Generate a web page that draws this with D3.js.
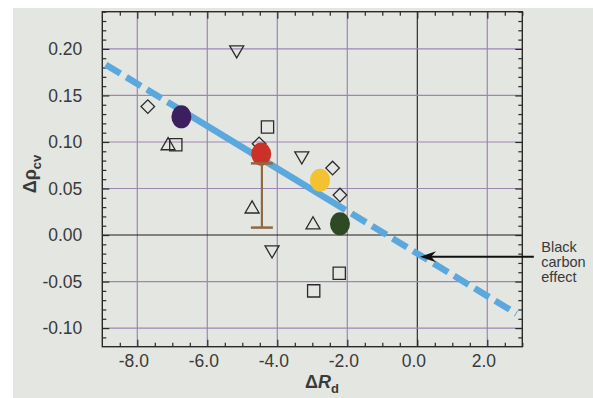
<!DOCTYPE html>
<html><head><meta charset="utf-8">
<script src="https://cdn.jsdelivr.net/npm/d3@7"></script>
<style>
html,body{margin:0;padding:0;background:#fff;}
svg{display:block;}
text{font-family:"Liberation Sans",Arial,Helvetica,sans-serif;fill:#3a3a3a;}
</style></head>
<body>
<svg id="chart" width="593" height="398"></svg>
<script>
// ---- data ----
const xTicks = [-8, -6, -4, -2, 0, 2];
const xTickLabels = ["-8.0", "-6.0", "-4.0", "-2.0", "0.0", "2.0"];
const yTicks = [0.20, 0.15, 0.10, 0.05, 0.00, -0.05, -0.10];
const yTickLabels = ["0.20", "0.15", "0.10", "0.05", "0.00", "-0.05", "-0.10"];

const diamonds = [[-7.70, 0.138], [-4.52, 0.098], [-2.42, 0.072], [-2.21, 0.043]];
const squares = [[-6.90, 0.097], [-4.28, 0.116], [-2.23, -0.041], [-2.96, -0.060]];
const upTriangles = [[-7.12, 0.096], [-4.72, 0.028], [-2.98, 0.011]];
const downTriangles = [[-5.16, 0.199], [-3.30, 0.085], [-4.15, -0.016]];

const circleNames = ["purple", "red", "yellow", "green"];
const circleX = [-6.74, -4.46, -2.78, -2.21];
const circleY = [0.127, 0.087, 0.059, 0.012];
const circleColors = ["#3b1f5e", "#cc3127", "#f2c230", "#2d4a24"];

const errorBar = {x: -4.44, low: 0.008, high: 0.077};

const fitDashedLeft = [[-8.9, 0.183], [-6.74, 0.134]];
const fitSolid = [[-6.74, 0.134], [-2.05, 0.027]];
const fitDashedRight = [[-2.05, 0.027], [2.83, -0.0845]];

const arrowFrom = [3.33, -0.0233];
const arrowTo = [0.08, -0.0233];
const noteLines = ["Black", "carbon", "effect"];

// ---- layout ----
const svg = d3.select("#chart");
const L = 102.3, R = 522.3, T = 11.7, B = 346.7;
const x = d3.scaleLinear().domain([-9, 3]).range([L, R]);
const y = d3.scaleLinear().domain([-0.12, 0.24]).range([B, T]);

// paper
svg.append("rect").attr("x", 13).attr("y", 8).attr("width", 593 - 13).attr("height", 398 - 8)
  .attr("fill", "#e4e6e2");

// grid
const grid = svg.append("g");
xTicks.forEach(v => {
  grid.append("line").attr("x1", x(v)).attr("x2", x(v)).attr("y1", T).attr("y2", B)
    .attr("stroke", v === 0 ? "#1e1e1e" : "#9e86b3").attr("stroke-width", v === 0 ? 1.1 : 1.2);
});
yTicks.forEach(v => {
  grid.append("line").attr("x1", L).attr("x2", R).attr("y1", y(v)).attr("y2", y(v))
    .attr("stroke", v === 0 ? "#1e1e1e" : "#9e86b3").attr("stroke-width", v === 0 ? 1.1 : 1.2);
});

// ticks (inward on all sides) via d3 axes
const xMinor = d3.range(-8.5, 3.01, 0.5).filter(v => Math.abs(v - Math.round(v / 2) * 2) > 1e-6);
const yMinor = d3.range(-0.11, 0.2401, 0.01).filter(v => Math.abs(v / 0.05 - Math.round(v / 0.05)) > 1e-6);

function tickGroup(axisFn, scale, vals, size, tr) {
  const g = svg.append("g").attr("transform", tr)
    .call(axisFn(scale).tickValues(vals).tickSizeInner(-size).tickSizeOuter(0).tickFormat(""));
  g.select(".domain").remove();
  g.selectAll(".tick line").attr("stroke", "#2a2a2a").attr("stroke-width", 1.2);
  return g;
}
tickGroup(d3.axisBottom, x, xTicks, 7, `translate(0,${B})`);
tickGroup(d3.axisBottom, x, xMinor, 4, `translate(0,${B})`);
tickGroup(d3.axisTop, x, xTicks, 7, `translate(0,${T})`);
tickGroup(d3.axisTop, x, xMinor, 4, `translate(0,${T})`);
tickGroup(d3.axisLeft, y, yTicks, 7, `translate(${L},0)`);
tickGroup(d3.axisLeft, y, yMinor, 4, `translate(${L},0)`);
tickGroup(d3.axisRight, y, yTicks, 7, `translate(${R},0)`);
tickGroup(d3.axisRight, y, yMinor, 4, `translate(${R},0)`);

// tick labels
const xl = svg.append("g").attr("transform", `translate(0,${B})`)
  .call(d3.axisBottom(x).tickValues(xTicks).tickSize(0).tickPadding(8)
    .tickFormat((d, i) => xTickLabels[i]));
xl.select(".domain").remove();
xl.selectAll("text").attr("font-size", 17.5).attr("dx", -4).attr("fill", "#3a3a3a")
  .attr("font-family", "Liberation Sans, Arial, sans-serif");

const yl = svg.append("g").attr("transform", `translate(${L},0)`)
  .call(d3.axisLeft(y).tickValues(yTicks).tickSize(0).tickPadding(20)
    .tickFormat((d, i) => yTickLabels[i]));
yl.select(".domain").remove();
yl.selectAll("text").attr("font-size", 17.5).attr("fill", "#3a3a3a")
  .attr("font-family", "Liberation Sans, Arial, sans-serif");

// frame
svg.append("rect").attr("x", L).attr("y", T).attr("width", R - L).attr("height", B - T)
  .attr("fill", "none").attr("stroke", "#2a2a2a").attr("stroke-width", 1.4);

// fit line
const lineGen = d3.line().x(d => x(d[0])).y(d => y(d[1]));
const blue = "#5aa8dd";
svg.append("path").attr("d", lineGen(fitDashedLeft)).attr("stroke", blue).attr("stroke-width", 6.5)
  .attr("fill", "none").attr("stroke-dasharray", "17,7");
svg.append("path").attr("d", lineGen(fitSolid)).attr("stroke", blue).attr("stroke-width", 6.5)
  .attr("fill", "none");
svg.append("path").attr("d", lineGen(fitDashedRight)).attr("stroke", blue).attr("stroke-width", 6.5)
  .attr("fill", "none").attr("stroke-dasharray", "17,7").attr("stroke-dashoffset", 17);

// open markers
const mk = svg.append("g").attr("fill", "none").attr("stroke", "#2b2b2b").attr("stroke-width", 1.3);
mk.selectAll(".dia").data(diamonds).join("path")
  .attr("d", d3.symbol().type(d3.symbolSquare).size(92)())
  .attr("transform", d => `translate(${x(d[0])},${y(d[1])}) rotate(45)`);
mk.selectAll(".sq").data(squares).join("path")
  .attr("d", d3.symbol().type(d3.symbolSquare).size(150)())
  .attr("transform", d => `translate(${x(d[0])},${y(d[1])})`);
mk.selectAll(".tu").data(upTriangles).join("path")
  .attr("d", d3.symbol().type(d3.symbolTriangle).size(85)())
  .attr("transform", d => `translate(${x(d[0])},${y(d[1])})`);
mk.selectAll(".td").data(downTriangles).join("path")
  .attr("d", d3.symbol().type(d3.symbolTriangle).size(85)())
  .attr("transform", d => `translate(${x(d[0])},${y(d[1])}) rotate(180)`);

// filled circles
svg.selectAll(".fc").data(circleNames).join("ellipse")
  .attr("cx", (d, i) => x(circleX[i])).attr("cy", (d, i) => y(circleY[i]))
  .attr("rx", 10).attr("ry", 11.5).attr("fill", (d, i) => circleColors[i]);

// error bar
const eb = svg.append("g").attr("stroke", "#8d6a43").attr("stroke-width", 2.2);
eb.append("line").attr("x1", x(errorBar.x)).attr("x2", x(errorBar.x))
  .attr("y1", y(errorBar.high)).attr("y2", y(errorBar.low));
[errorBar.high, errorBar.low].forEach(v => {
  eb.append("line").attr("x1", x(errorBar.x) - 11).attr("x2", x(errorBar.x) + 11)
    .attr("y1", y(v)).attr("y2", y(v)).attr("stroke-width", 2.5);
});

// arrow annotation
const ax0 = x(arrowFrom[0]), ay = y(arrowFrom[1]), ax1 = x(arrowTo[0]);
svg.append("line").attr("x1", ax0).attr("x2", ax1 + 8).attr("y1", ay).attr("y2", ay)
  .attr("stroke", "#111").attr("stroke-width", 2);
svg.append("path")
  .attr("d", `M${ax1},${ay} L${ax1 + 16},${ay - 5.5} L${ax1 + 11},${ay} L${ax1 + 16},${ay + 5.5} Z`)
  .attr("fill", "#111");
const note = svg.append("text").attr("x", R + 19).attr("y", 252).attr("font-size", 14.5);
noteLines.forEach((t, i) => note.append("tspan").attr("x", R + 19).attr("y", 252 + i * 15).text(t));

// axis titles
const xt = svg.append("text").attr("x", 322).attr("y", 388).attr("text-anchor", "middle")
  .attr("font-size", 18).attr("font-weight", "bold");
xt.append("tspan").text("\u0394");
xt.append("tspan").attr("font-style", "italic").text("R");
xt.append("tspan").attr("font-size", 13).attr("dy", 5).text("d");

const yt = svg.append("text").attr("transform", "translate(36,174) rotate(-90)")
  .attr("text-anchor", "middle").attr("font-size", 18).attr("font-weight", "bold");
yt.append("tspan").text("\u0394\u03c1");
yt.append("tspan").attr("font-size", 13).attr("dy", 5).text("cv");
</script>
</body></html>
